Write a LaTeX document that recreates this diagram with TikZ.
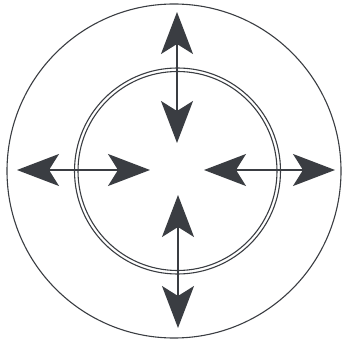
\documentclass[tikz,border=0pt]{standalone}
\usepackage{tikz}
\usetikzlibrary{arrows.meta}
\definecolor{ink}{HTML}{3A3D42}
\tikzset{
  ring/.style={draw=ink, line width=1.1pt},
  push/.style={draw=ink, line width=1.4pt,
    {Stealth[length=42pt, width=32pt, inset=10pt, fill=ink]}-{Stealth[length=42pt, width=32pt, inset=10pt, fill=ink]}}
}
\begin{document}
\begin{tikzpicture}[x=1pt,y=1pt]
\useasboundingbox (0,0) rectangle (342,340);
\draw[ring] (174,169) circle[radius=167];
\draw[ring] (177.5,169) circle[radius=103];
\draw[ring] (177.5,169) circle[radius=99.5];
\coordinate (topout) at (177,328);
\coordinate (topin) at (177,197);
\coordinate (botin) at (178,145);
\coordinate (botout) at (178,12);
\coordinate (leftout) at (17,170);
\coordinate (leftin) at (150,170);
\coordinate (rightin) at (204,170);
\coordinate (rightout) at (335,170);
\draw[push] (topout) -- (topin);
\draw[push] (botin) -- (botout);
\draw[push] (leftout) -- (leftin);
\draw[push] (rightin) -- (rightout);
\end{tikzpicture}
\end{document}
